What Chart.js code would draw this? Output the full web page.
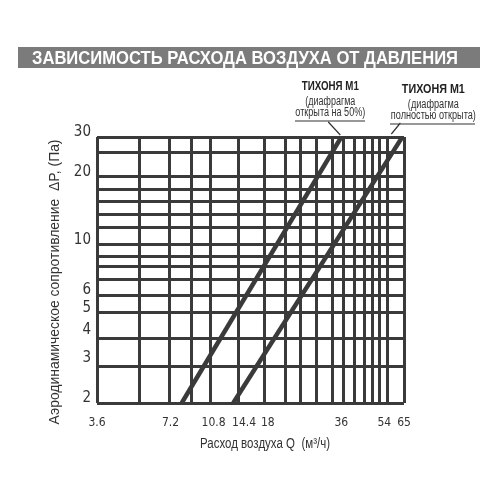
<!DOCTYPE html>
<html><head><meta charset="utf-8">
<script src="https://cdn.jsdelivr.net/npm/chart.js@4/dist/chart.umd.min.js"></script>
<style>html,body{margin:0;padding:0;background:#fff}</style>
</head><body>
<canvas id="c" width="500" height="500" style="width:500px;height:500px;display:block"></canvas>
<script>
const chartTitle = 'ЗАВИСИМОСТЬ РАСХОДА ВОЗДУХА ОТ ДАВЛЕНИЯ';
const xTitle = 'Расход воздуха Q  (м³/ч)';
const yTitle = 'Аэродинамическое сопротивление  ΔP, (Па)';
const xTickLabels = [3.6, 7.2, 10.8, 14.4, 18, 36, 54, 65];
const yTickLabels = [2, 3, 4, 5, 6, 10, 20, 30];
const xGrid = [3.6, 5.35, 7.1, 8.8, 10.5, 13.7, 17.5, 21.2, 24.6, 28.6, 33, 36.6, 40.6, 44.6, 48.5, 51.8, 55.4, 65];
const yGrid = [2, 2.9, 3.87, 5, 6, 7, 8, 8.85, 10, 12, 13.6, 15.5, 17.5, 20, 25.5, 30];
const seriesTitles = ['ТИХОНЯ М1', 'ТИХОНЯ М1'];
const seriesNotes1 = ['(диафрагма', '(диафрагма'];
const seriesNotes2 = ['открыта на 50%)', 'полностью открыта)'];
const s1Q = [8, 36];
const s1P = [2, 30];
const s2Q = [13, 64];
const s2P = [2, 30];

const INK = '#3a3a3a';
const NARROW = '"DejaVu Sans Condensed", "Liberation Sans Narrow", "Liberation Sans", sans-serif';
const SANS = '"Liberation Sans", Arial, sans-serif';

function pts(q, p) { return q.map((v, i) => ({x: v, y: p[i]})); }

function fitText(ctx, text, x, y, width, font, color, rot) {
  ctx.save();
  ctx.font = font;
  const w = ctx.measureText(text).width;
  ctx.translate(x, y);
  if (rot) ctx.rotate(rot);
  ctx.scale(width / w, 1);
  ctx.fillStyle = color;
  ctx.textAlign = 'center';
  ctx.textBaseline = 'middle';
  ctx.fillText(text, 0, 0);
  ctx.restore();
}

const deco = {
  id: 'deco',
  beforeDraw(chart) {
    const ctx = chart.ctx;
    ctx.save(); ctx.fillStyle = '#fff'; ctx.fillRect(0, 0, chart.width, chart.height); ctx.restore();
  },
  afterDraw(chart) {
    const ctx = chart.ctx;
    ctx.save();
    ctx.fillStyle = '#7b7b7b';
    ctx.fillRect(18, 47, 462, 21);
    ctx.restore();
    fitText(ctx, chartTitle, 245, 58.5, 426, 'bold 19px ' + SANS, '#fff', 0);

    const xs = chart.scales.x, ys = chart.scales.y;
    const ca = chart.chartArea;
    fitText(ctx, xTitle, ca.left + 168, ca.bottom + 41, 130, '14px ' + SANS, '#333', 0);
    fitText(ctx, yTitle, ca.left - 42, ca.bottom - 121, 285, '14px ' + SANS, '#333', -Math.PI / 2);

    const ends = [[s1Q[1], s1P[1]], [s2Q[1], s2P[1]]];
    const cfg = [
      {dx: -11, dy: 0, ulL: 295, ulR: 365, w: [57, 50, 70], lead: [[-13, -15], [-1, -2]]},
      {dx: 31, dy: 3, ulL: 390, ulR: 475, w: [63, 51, 85], lead: [[-2, -14], [-11, -3]]}
    ];
    ends.forEach((e, i) => {
      const px = xs.getPixelForValue(e[0]);
      const py = ys.getPixelForValue(e[1]);
      const c = cfg[i];
      const cx = px + c.dx;
      const by = 87 + c.dy;
      fitText(ctx, seriesTitles[i], cx, by, c.w[0], 'bold 12px ' + SANS, '#222', 0);
      fitText(ctx, seriesNotes1[i], cx, by + 15, c.w[1], '12px ' + SANS, '#333', 0);
      fitText(ctx, seriesNotes2[i], cx, by + 26, c.w[2], '12px ' + SANS, '#333', 0);
      ctx.save();
      ctx.strokeStyle = '#333';
      ctx.lineWidth = 1.2;
      ctx.beginPath();
      ctx.moveTo(c.ulL, by + 34); ctx.lineTo(c.ulR, by + 34);
      ctx.moveTo(px + c.lead[0][0], py + c.lead[0][1]);
      ctx.lineTo(px + c.lead[1][0], py + c.lead[1][1]);
      ctx.stroke();
      ctx.restore();
    });
  }
};

new Chart(document.getElementById('c'), {
  type: 'line',
  data: {
    datasets: [
      {label: seriesNotes2[0], data: pts(s1Q, s1P), borderColor: INK, borderWidth: 4.5, pointRadius: 0, xAxisID: 'x', yAxisID: 'y'},
      {label: seriesNotes2[1], data: pts(s2Q, s2P), borderColor: INK, borderWidth: 4.5, pointRadius: 0, xAxisID: 'x', yAxisID: 'y'}
    ]
  },
  options: {
    responsive: false,
    animation: false,
    devicePixelRatio: 1,
    layout: {padding: {top: 137, right: 96, left: 0, bottom: 0}},
    plugins: {legend: {display: false}, tooltip: {enabled: false}},
    scales: {
      x: {
        type: 'logarithmic', position: 'bottom', min: 3.6, max: 65, weight: 0,
        afterBuildTicks: s => { s.ticks = xGrid.map(v => ({value: v})); },
        afterFit: s => { s.height = 0; },
        ticks: {display: false},
        grid: {color: INK, lineWidth: 3, drawTicks: false},
        border: {display: false}
      },
      xl: {
        type: 'logarithmic', position: 'bottom', min: 3.6, max: 65, weight: 1,
        afterBuildTicks: s => { s.ticks = xTickLabels.map(v => ({value: v})); },
        afterFit: s => { s.height = 97; },
        ticks: {autoSkip: false, maxRotation: 0, minRotation: 0, padding: 13, color: '#333',
                font: {family: NARROW, size: 12}, callback: v => String(v)},
        grid: {display: false, drawTicks: false},
        border: {display: false}
      },
      y: {
        type: 'logarithmic', position: 'left', min: 2, max: 30, weight: 0,
        afterBuildTicks: s => { s.ticks = yGrid.map(v => ({value: v})); },
        afterFit: s => { s.width = 0; },
        ticks: {display: false},
        grid: {color: INK, lineWidth: 3, drawTicks: false},
        border: {display: false}
      },
      yl: {
        type: 'logarithmic', position: 'left', min: 2, max: 30, weight: 1,
        afterBuildTicks: s => { s.ticks = yTickLabels.map(v => ({value: v})); },
        afterFit: s => { s.width = 97; },
        ticks: {autoSkip: false, padding: 6, labelOffset: -5, color: '#333',
                font: {family: NARROW, size: 15}, callback: v => String(v)},
        grid: {display: false, drawTicks: false},
        border: {display: false}
      }
    }
  },
  plugins: [deco]
});
</script>
</body></html>
